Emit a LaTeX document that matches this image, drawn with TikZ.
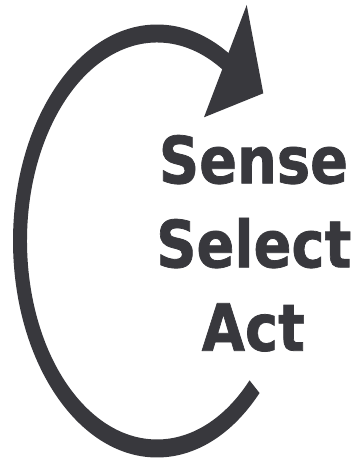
\documentclass[tikz,border=0pt]{standalone}
\usepackage{fontspec}
\usepackage{graphicx}
\setmainfont{DejaVu Sans}
\newfontfamily\lblfont{DejaVu Sans Bold}[FakeBold=1.2]
\usetikzlibrary{calc}
\definecolor{arrowc}{RGB}{56,56,61}
\begin{document}
\begin{tikzpicture}
\tikzset{
  lbl/.style={text=arrowc, font=\fontsize{65}{84}\lblfont, inner sep=0pt, anchor=base},
}
\useasboundingbox[fill=white] (0pt,0pt) rectangle (358pt,-460pt);
\coordinate (c) at (157pt,-241pt);
\coordinate (os) at ($(c)+(-44.6:144pt and 216.5pt)$);
\coordinate (ie) at ($(c)+(-305:130pt and 198.5pt)$);
% curved band
\fill[arrowc] (os) arc[start angle=-44.6, end angle=-305, x radius=144pt, y radius=216.5pt]
  -- (ie) arc[start angle=-305, end angle=-44.6, x radius=130pt, y radius=198.5pt] -- cycle;
% arrowhead
\coordinate (t1) at (246.7pt,-5pt);
\coordinate (t2) at (263.3pt,-93.3pt);
\coordinate (t3) at (204pt,-117.3pt);
\fill[arrowc] (t1) -- (t2) -- (t3) -- cycle;
% labels
\node[lbl] (sense) at (253.5pt,-183.3pt) {\scalebox{0.86}[1]{Sense}};
\node[lbl] (select) at (253.8pt,-267.3pt) {\scalebox{0.86}[1]{Select}};
\node[lbl] (act) at (253.3pt,-350.7pt) {\scalebox{0.86}[1]{Act}};
\end{tikzpicture}
\end{document}
